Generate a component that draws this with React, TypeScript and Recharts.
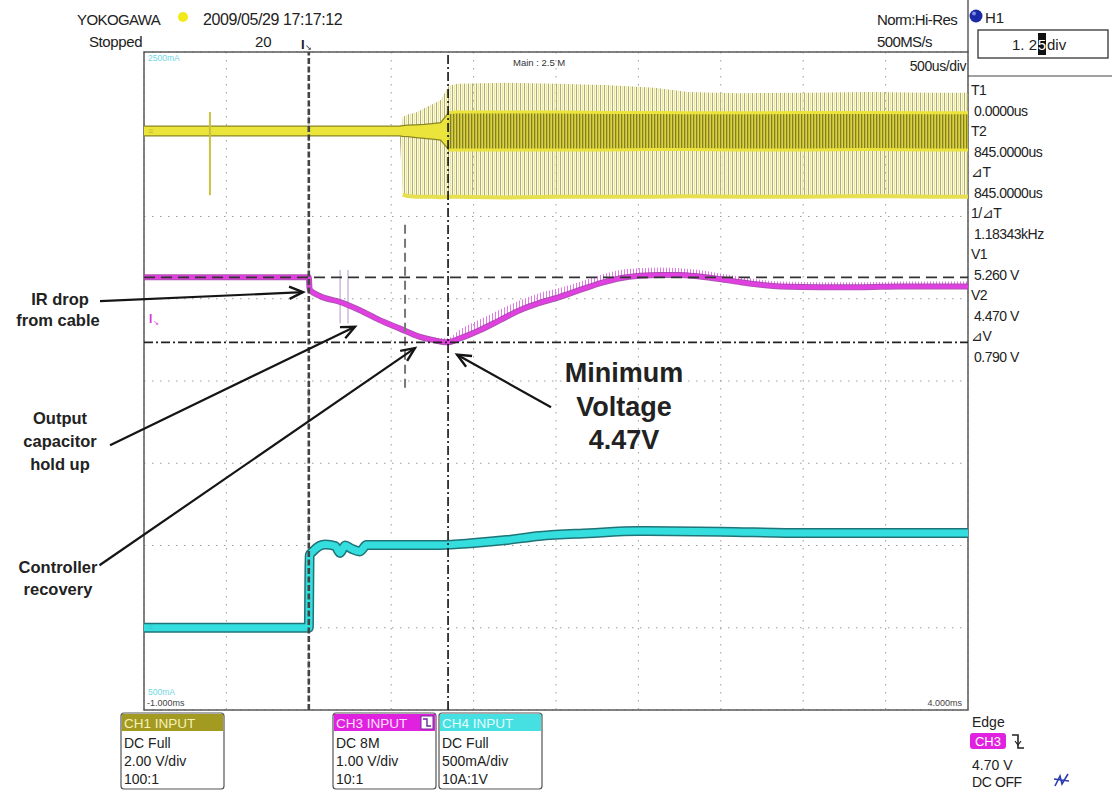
import React from 'react';
import {
  ComposedChart,
  Line,
  Area,
  XAxis,
  YAxis,
  CartesianGrid,
  ReferenceLine,
  ReferenceArea,
} from 'recharts';

const W = 1112;
const H = 791;
const FONT = '"Liberation Sans", Arial, sans-serif';

// screen grid: 10 time divisions (500us/div, trigger 2 div from left), 8 vertical divisions
const timeTicks = [-1, -0.5, 0, 0.5, 1, 1.5, 2, 2.5, 3, 3.5, 4];
const divTicks = [-4, -3, -2, -1, 0, 1, 2, 3, 4];

// CH1 switch node (2.00 V/div), volts relative to its ground marker
const ch1Time = [-1, 0.55, 0.57, 0.6, 0.65, 0.7, 0.75, 0.8, 0.85, 0.9, 1.2, 1.5, 1.8, 2.1, 2.3, 2.6, 3.0, 3.4, 3.8, 4.0];
const ch1SpikeHi = [0, 0, 0.34, 0.4, 0.45, 0.55, 0.65, 0.75, 1.1, 1.15, 1.17, 1.15, 1.12, 1.05, 0.95, 0.92, 0.93, 0.95, 0.93, 0.93];
const ch1SpikeLo = [0, 0, -1.55, -1.58, -1.6, -1.6, -1.6, -1.61, -1.6, -1.6, -1.62, -1.6, -1.6, -1.6, -1.59, -1.6, -1.6, -1.58, -1.6, -1.6];
const ch1CoreHi = [0.12, 0.12, 0.13, 0.14, 0.15, 0.16, 0.18, 0.2, 0.45, 0.46, 0.46, 0.46, 0.45, 0.45, 0.44, 0.44, 0.45, 0.45, 0.44, 0.44];
const ch1CoreLo = [-0.12, -0.12, -0.13, -0.14, -0.16, -0.18, -0.2, -0.22, -0.46, -0.46, -0.46, -0.46, -0.46, -0.45, -0.45, -0.46, -0.46, -0.45, -0.46, -0.46];
// lone glitch before the load step
const ch1GlitchTime = [-0.6, -0.6, -0.6];
const ch1GlitchV = [0.46, 0, -1.56];

// CH3 output voltage (1.00 V/div)
const ch3Time = [-1, -0.5, 0, 0.005, 0.07, 0.19, 0.31, 0.43, 0.55, 0.67, 0.75, 0.84, 0.92, 1.04, 1.16, 1.28, 1.4, 1.52, 1.65, 1.77, 1.89, 2.01, 2.13, 2.25, 2.37, 2.49, 2.62, 2.74, 2.86, 3.11, 3.34, 3.59, 3.83, 4.0];
const ch3Volts = [5.26, 5.26, 5.26, 5.11, 5.03, 4.96, 4.86, 4.74, 4.64, 4.54, 4.5, 4.47, 4.52, 4.62, 4.74, 4.86, 4.95, 5.02, 5.11, 5.19, 5.25, 5.28, 5.29, 5.29, 5.27, 5.24, 5.2, 5.17, 5.15, 5.14, 5.14, 5.15, 5.15, 5.15];
const ch3NoiseTop = [5.26, 5.26, 5.26, 5.11, 5.04, 4.97, 4.87, 4.76, 4.66, 4.57, 4.53, 4.52, 4.63, 4.75, 4.87, 4.98, 5.07, 5.13, 5.21, 5.29, 5.35, 5.37, 5.38, 5.37, 5.35, 5.31, 5.27, 5.23, 5.21, 5.2, 5.2, 5.21, 5.21, 5.21];
const ch3GlitchTime = [0.19, 0.19, 0.2, 0.238, 0.238];
const ch3GlitchV = [5.35, 4.7, null, 5.35, 4.7];

// CH4 load current (500mA/div)
const ch4Time = [-1, -0.5, 0, 0.005, 0.025, 0.1, 0.16, 0.19, 0.22, 0.26, 0.31, 0.35, 0.43, 0.8, 1.0, 1.2, 1.4, 1.7, 2.0, 2.5, 3.0, 3.5, 4.0];
const ch4mA = [-1000, -1000, -1000, -560, -535, -494, -503, -545, -500, -520, -536, -497, -497, -497, -485, -467, -442, -425, -412, -416, -424, -424, -424];

// cursors
const cursorT1 = 0;
const cursorT2 = 0.845;
const cursorV1 = 5.26;
const cursorV2 = 4.47;

// channel position on screen (divisions from centre)
const ch1Div = (v: number) => 3.04 + v / 2;
const ch3Div = (v: number) => v - 4.0;
const ch4Div = (mA: number) => (mA - 500) / 500;

const ch1Rows = ch1Time.map((t, i) => ({
  t,
  spike: [ch1Div(ch1SpikeLo[i]), ch1Div(ch1SpikeHi[i])],
  core: [ch1Div(ch1CoreLo[i]), ch1Div(ch1CoreHi[i])],
  low: ch1Div(ch1SpikeLo[i]),
}));
const ch1Glitch = ch1GlitchTime.map((t, i) => ({ t, y: ch1Div(ch1GlitchV[i]) }));
const ch3Rows = ch3Time.map((t, i) => ({
  t,
  y: ch3Div(ch3Volts[i]),
  noise: [ch3Div(ch3Volts[i]), ch3Div(ch3NoiseTop[i])],
}));
const ch3Glitch = ch3GlitchTime.map((t, i) => ({ t, y: ch3GlitchV[i] == null ? null : ch3Div(ch3GlitchV[i] as number) }));
const ch4Rows = ch4Time.map((t, i) => ({ t, y: ch4Div(ch4mA[i]) }));

// annotation arrows, in time (ms) / division units
const arrows = [
  { from: { x: -1.267, y: 0.97 }, to: { x: -0.035, y: 1.08 } },
  { from: { x: -1.206, y: -0.78 }, to: { x: 0.28, y: 0.66 } },
  { from: { x: -1.27, y: -2.24 }, to: { x: 0.644, y: 0.4 } },
  { from: { x: 1.47, y: -0.32 }, to: { x: 0.9, y: 0.32 } },
];

function ArrowShape(props: any) {
  const { x1, y1, x2, y2 } = props;
  const a = Math.atan2(y2 - y1, x2 - x1);
  const len = 15;
  const sp = 0.42;
  const p1 = `${x2 - len * Math.cos(a - sp)},${y2 - len * Math.sin(a - sp)}`;
  const p2 = `${x2 - len * Math.cos(a + sp)},${y2 - len * Math.sin(a + sp)}`;
  return (
    <g>
      <line x1={x1} y1={y1} x2={x2} y2={y2} stroke="#151515" strokeWidth={2.2} />
      <polyline points={`${p1} ${x2},${y2} ${p2}`} fill="none" stroke="#151515" strokeWidth={2.4} />
    </g>
  );
}

function Txt({ x, y, s = 14, c = '#222', a = 'start', w = 400, ls = 0, children }: any) {
  return (
    <text x={x} y={y} fontSize={s} fill={c} textAnchor={a} fontWeight={w} fontFamily={FONT} letterSpacing={ls} dominantBaseline="central">
      {children}
    </text>
  );
}

function ChannelBox({ x, title, head, headText, lines }: any) {
  return (
    <g>
      <rect x={x} y={713} width={103} height={76} rx={3} fill="#fff" stroke="#555" strokeWidth={1.2} />
      <rect x={x + 1} y={714} width={101} height={17} fill={head} />
      <Txt x={x + 3} y={723} s={13.5} c={headText}>{title}</Txt>
      <Txt x={x + 3} y={743} s={14}>{lines[0]}</Txt>
      <Txt x={x + 3} y={761} s={14}>{lines[1]}</Txt>
      <Txt x={x + 3} y={779} s={14}>{lines[2]}</Txt>
    </g>
  );
}

const cursorPanel = [
  ['T1', '0.0000us'],
  ['T2', '845.0000us'],
  ['\u22BFT', '845.0000us'],
  ['1/\u22BFT', '1.18343kHz'],
  ['V1', '5.260 V'],
  ['V2', '4.470 V'],
  ['\u22BFV', '0.790 V'],
];

function Overlay() {
  return (
    <svg width={W} height={H} style={{ position: 'absolute', left: 0, top: 0, pointerEvents: 'none' }}>
      {/* header */}
      <Txt x={77} y={19} s={15} ls={-0.6}>YOKOGAWA</Txt>
      <circle cx={183} cy={17} r={5} fill="#f2ea18" />
      <Txt x={203} y={19} s={16} ls={-0.4}>2009/05/29 17:17:12</Txt>
      <Txt x={89} y={41} s={15} ls={-0.4}>Stopped</Txt>
      <Txt x={255} y={41} s={15}>20</Txt>
      <Txt x={301} y={44} s={13} w={700}>I</Txt>
      <Txt x={305} y={47} s={8}>{'\u2198'}</Txt>
      <Txt x={877} y={19} s={15} ls={-0.6}>Norm:Hi-Res</Txt>
      <Txt x={877} y={41} s={15} ls={-0.6}>500MS/s</Txt>

      {/* H1 block */}
      <line x1={968} y1={0} x2={968} y2={52} stroke="#444" strokeWidth={1.3} />
      <line x1={968} y1={76} x2={1112} y2={76} stroke="#444" strokeWidth={1.2} />
      <circle cx={976} cy={16} r={6.5} fill="#1b2ba8" />
      <circle cx={974} cy={13.5} r={2} fill="#7f8ae0" />
      <Txt x={985} y={17} s={15}>H1</Txt>
      <rect x={978} y={30} width={130} height={28} fill="#fff" stroke="#333" strokeWidth={1.3} />
      <Txt x={1037} y={44} s={15} a="end">1. 2</Txt>
      <rect x={1038} y={33} width={8} height={22} fill="#111" />
      <Txt x={1042} y={44} s={15} a="middle" c="#fff">5</Txt>
      <Txt x={1047} y={44} s={15}>div</Txt>

      {/* cursor readout */}
      {cursorPanel.map(([k, v], i) => (
        <g key={k}>
          <Txt x={971} y={90 + i * 41} s={14} ls={-0.5}>{k}</Txt>
          <Txt x={974} y={111 + i * 41} s={14} ls={-0.5}>{v}</Txt>
        </g>
      ))}

      {/* labels inside the screen */}
      <Txt x={148} y={58} s={8.5} c="#6fd6e2">2500mA</Txt>
      <Txt x={513} y={62} s={9.5} c="#333">Main : 2.5 M</Txt>
      <Txt x={966} y={66} s={14} a="end" ls={-0.4}>500us/div</Txt>
      <Txt x={148} y={692} s={8.5} c="#6fd6e2">500mA</Txt>
      <Txt x={147} y={703} s={9} c="#444">-1.000ms</Txt>
      <Txt x={962} y={703} s={9} c="#444" a="end">4.000ms</Txt>
      <Txt x={148} y={131} s={9} c="#c8c030">{'\u2261'}</Txt>
      <Txt x={149} y={319} s={12} c="#d838d8" w={700}>I</Txt>
      <Txt x={153} y={322} s={7} c="#d838d8">{'\u2198'}</Txt>
      <Txt x={148} y={627} s={9} c="#40c8d0">{'\u2261'}</Txt>

      {/* annotations */}
      <Txt x={60} y={299} s={16.5} w={700} a="middle">IR drop</Txt>
      <Txt x={58} y={320} s={16.5} w={700} a="middle">from cable</Txt>
      <Txt x={60} y={418} s={16.5} w={700} a="middle">Output</Txt>
      <Txt x={60} y={441} s={16.5} w={700} a="middle">capacitor</Txt>
      <Txt x={60} y={464} s={16.5} w={700} a="middle">hold up</Txt>
      <Txt x={58} y={567} s={16.5} w={700} a="middle">Controller</Txt>
      <Txt x={58} y={589} s={16.5} w={700} a="middle">recovery</Txt>
      <Txt x={624} y={373} s={27} w={700} a="middle">Minimum</Txt>
      <Txt x={624} y={407} s={27} w={700} a="middle">Voltage</Txt>
      <Txt x={624} y={440} s={27} w={700} a="middle">4.47V</Txt>

      {/* channel boxes */}
      <ChannelBox x={121} title="CH1 INPUT" head="#a39a22" headText="#f6f2b8" lines={['DC Full', '2.00 V/div', '100:1']} />
      <ChannelBox x={333} title="CH3 INPUT" head="#e022e0" headText="#fbe0fb" lines={['DC 8M', '1.00 V/div', '10:1']} />
      <rect x={421} y={716} width={12} height={13} fill="#fff" stroke="#7a2a9a" strokeWidth={1} />
      <polyline points="423,719 427,719 427,726 431,726" fill="none" stroke="#6a2a9a" strokeWidth={1.4} />
      <ChannelBox x={439} title="CH4 INPUT" head="#46e0e2" headText="#e4fcfc" lines={['DC Full', '500mA/div', '10A:1V']} />

      {/* trigger block */}
      <Txt x={972} y={722} s={14}>Edge</Txt>
      <rect x={970} y={733} width={36} height={16} rx={3} fill="#e022e0" />
      <Txt x={988} y={741.5} s={13} c="#fff" a="middle">CH3</Txt>
      <polyline points="1012,735 1018,735 1018,748 1024,748" fill="none" stroke="#222" strokeWidth={1.6} />
      <polyline points="1015,741 1018,745 1021,741" fill="none" stroke="#222" strokeWidth={1.2} />
      <Txt x={972} y={765} s={14}>4.70 V</Txt>
      <Txt x={972} y={782} s={14} ls={-0.4}>DC OFF</Txt>
      <path d="M1055,786 L1060,776 L1062,784 L1068,774 M1054,779 L1069,781" fill="none" stroke="#2a3ab0" strokeWidth={1.6} />
    </svg>
  );
}

export default function App() {
  return (
    <div style={{ position: 'absolute', left: 0, top: 0, width: W, height: H, background: '#fff' }}>
      <ComposedChart width={W} height={H} margin={{ top: 52, right: 144, bottom: 81, left: 144 }}>
        <defs>
          <pattern id="ch1comb" width="4" height="10" patternUnits="userSpaceOnUse">
            <rect x="0" y="0" width="1.1" height="10" fill="#b3ae6a" />
            <rect x="2" y="0" width="1.3" height="10" fill="#ebe898" />
          </pattern>
          <pattern id="ch1dense" width="3" height="10" patternUnits="userSpaceOnUse">
            <rect x="0" y="0" width="3" height="10" fill="#d8d23e" />
            <rect x="0" y="0" width="1.3" height="10" fill="#858026" />
          </pattern>
          <pattern id="ch3comb" width="3" height="10" patternUnits="userSpaceOnUse">
            <rect x="0" y="0" width="1" height="10" fill="#e27ae6" />
          </pattern>
        </defs>
        <XAxis type="number" dataKey="t" domain={[-1, 4]} ticks={timeTicks} hide allowDataOverflow />
        <YAxis type="number" domain={[-4, 4]} ticks={divTicks} hide allowDataOverflow />
        <CartesianGrid stroke="#9c9c9c" strokeDasharray="1.5 6.5" />
        <ReferenceArea x1={-1} x2={4} y1={-4} y2={4} fill="none" stroke="#5a5a5a" strokeWidth={1.5} ifOverflow="visible" />

        {/* CH1 */}
        <Area data={ch1Rows} dataKey="spike" type="linear" stroke="none" fill="url(#ch1comb)" fillOpacity={1} isAnimationActive={false} />
        <Line data={ch1Rows.filter((r) => r.t >= 0.57)} dataKey="low" type="linear" stroke="#e6e050" strokeWidth={4} dot={false} activeDot={false} isAnimationActive={false} />
        <Line data={ch1Glitch} dataKey="y" type="linear" stroke="#c9c23e" strokeWidth={2} dot={false} activeDot={false} isAnimationActive={false} />
        <Area data={ch1Rows.filter((r) => r.t <= 0.85)} dataKey="core" type="linear" stroke="#8a8626" strokeWidth={1.3} fill="#ebe43a" fillOpacity={1} isAnimationActive={false} />
        <Area data={ch1Rows.filter((r) => r.t >= 0.85)} dataKey="core" type="linear" stroke="#ece43a" strokeWidth={3} fill="url(#ch1dense)" fillOpacity={1} isAnimationActive={false} />

        {/* CH3 */}
        <Area data={ch3Rows} dataKey="noise" type="monotone" stroke="none" fill="url(#ch3comb)" fillOpacity={1} isAnimationActive={false} />
        <Line data={ch3Glitch} dataKey="y" type="linear" stroke="#c0a8d0" strokeWidth={1.2} dot={false} activeDot={false} isAnimationActive={false} />
        <Line data={ch3Rows} dataKey="y" type="monotone" stroke="#a234a8" strokeWidth={6} strokeOpacity={0.85} dot={false} activeDot={false} isAnimationActive={false} />
        <Line data={ch3Rows} dataKey="y" type="monotone" stroke="#e040e0" strokeWidth={4} dot={false} activeDot={false} isAnimationActive={false} />

        {/* CH4 */}
        <Line data={ch4Rows} dataKey="y" type="monotone" stroke="#1f7478" strokeWidth={10} dot={false} activeDot={false} isAnimationActive={false} />
        <Line data={ch4Rows} dataKey="y" type="monotone" stroke="#34dede" strokeWidth={7} dot={false} activeDot={false} isAnimationActive={false} />

        {/* cursors */}
        <ReferenceLine segment={[{ x: 0.584, y: 1.9 }, { x: 0.584, y: -0.13 }]} stroke="#777" strokeWidth={2} strokeDasharray="9 5" ifOverflow="visible" />
        <ReferenceLine x={cursorT1} stroke="#444" strokeWidth={2.6} strokeDasharray="6 2.5" />
        <ReferenceLine x={cursorT2} stroke="#111" strokeWidth={1.6} strokeDasharray="9 3 2 3" />
        <ReferenceLine y={ch3Div(cursorV1)} stroke="#333" strokeWidth={1.8} strokeDasharray="11 6" />
        <ReferenceLine y={ch3Div(cursorV2)} stroke="#222" strokeWidth={1.6} strokeDasharray="9 3 2 3" />

        {arrows.map((a, i) => (
          <ReferenceLine key={i} segment={[a.from, a.to]} ifOverflow="visible" shape={ArrowShape} />
        ))}
      </ComposedChart>
      <Overlay />
    </div>
  );
}
